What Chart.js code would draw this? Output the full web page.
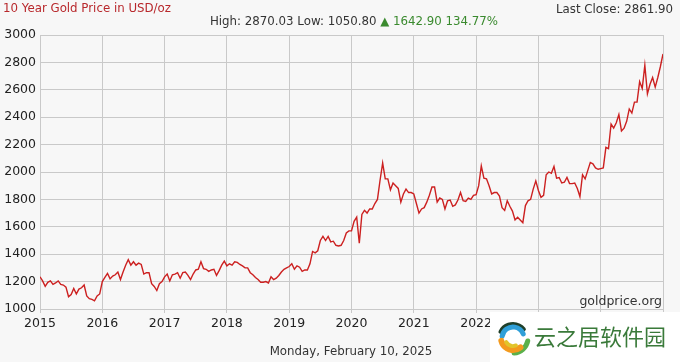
<!DOCTYPE html>
<html>
<head>
<meta charset="utf-8">
<script src="https://cdn.jsdelivr.net/npm/chart.js@4/dist/chart.umd.min.js"></script>
<style>
html,body{margin:0;padding:0;background:#f7f7f7;}
#wrap{width:680px;height:362px;position:relative;}
</style>
</head>
<body>
<div id="wrap"><canvas id="c" width="680" height="362"></canvas></div>
<script>
// Semi-monthly gold price readings (USD/oz), starting Feb 10 2015
const y2015 = [1235,1205,1165,1195,1205,1180,1190,1205,1180,1175,1160,1090,1105,1150,1110,1145,1155,1175,1095,1075,1070,1060,1095,1110];
const y2016 = [1200,1230,1260,1220,1240,1250,1270,1215,1270,1320,1360,1320,1345,1320,1335,1325,1255,1265,1265,1185,1165,1135,1185,1200];
const y2017 = [1235,1255,1205,1250,1255,1265,1225,1265,1270,1245,1215,1255,1285,1290,1345,1295,1290,1275,1285,1290,1245,1280,1320,1350];
const y2018 = [1315,1330,1320,1345,1340,1325,1315,1300,1300,1265,1250,1230,1215,1195,1195,1200,1190,1235,1215,1225,1245,1270,1290,1300];
const y2019 = [1310,1330,1290,1315,1305,1275,1285,1285,1330,1420,1410,1425,1500,1530,1500,1530,1490,1495,1465,1460,1465,1500,1555,1570];
const y2020 = [1570,1640,1670,1480,1690,1720,1700,1730,1730,1770,1800,1940,2065,1950,1950,1870,1920,1900,1880,1780,1840,1875,1850,1850];
const y2021 = [1840,1770,1700,1730,1740,1780,1830,1890,1890,1780,1810,1800,1730,1790,1795,1750,1760,1795,1850,1790,1785,1810,1800,1830];
const y2022 = [1835,1900,2045,1955,1950,1900,1840,1850,1850,1825,1740,1720,1790,1750,1715,1650,1670,1650,1630,1755,1790,1800,1875,1935];
const y2023 = [1865,1815,1830,1980,2000,1990,2040,1955,1960,1920,1925,1960,1915,1915,1920,1880,1820,1980,1950,2010,2070,2060,2030,2020];
const y2024 = [2025,2030,2180,2170,2350,2320,2360,2420,2300,2320,2370,2460,2430,2510,2510,2660,2610,2780,2570,2640,2690,2620,2690,2770,2862];

const yearLabels = ['2015','2016','2017','2018','2019','2020','2021','2022','2023','2024'];
const yTicks = [1000,1200,1400,1600,1800,2000,2200,2400,2600,2800,3000];

const prices = [].concat(y2015,y2016,y2017,y2018,y2019,y2020,y2021,y2022,y2023,y2024);
const points = prices.map((v,i)=>({x: 2015 + i/24, y: v}));

const FONT = '"DejaVu Sans", Verdana, sans-serif';

const decor = {
  id:'decor',
  beforeDraw(chart){
    const ctx = chart.ctx;
    ctx.save();
    ctx.fillStyle = '#f7f7f7';
    ctx.fillRect(0,0,chart.width,chart.height);
    ctx.restore();
  },
  afterDraw(chart){
    const ctx = chart.ctx;
    ctx.save();
    ctx.textBaseline = 'middle';
    ctx.font = '11.8px ' + FONT;
    // title
    ctx.fillStyle = '#b8282c';
    ctx.textAlign = 'left';
    ctx.fillText('10 Year Gold Price in USD/oz', 3, 9);
    // last close
    ctx.fillStyle = '#333';
    ctx.textAlign = 'right';
    ctx.fillText('Last Close: 2861.90', 673, 10);
    // high / low line
    const p1 = 'High: 2870.03 Low: 1050.80 ';
    const p2 = '\u25B2 1642.90 134.77%';
    const w1 = ctx.measureText(p1).width, w2 = ctx.measureText(p2).width;
    let sx = 354 - (w1+w2)/2;
    ctx.textAlign = 'left';
    ctx.fillStyle = '#333';
    ctx.fillText(p1, sx, 22);
    ctx.fillStyle = '#3a8a2e';
    ctx.fillText(p2, sx + w1, 22);
    // date
    ctx.fillStyle = '#333';
    ctx.textAlign = 'center';
    ctx.fillText('Monday, February 10, 2025', 351, 352);
    // goldprice.org
    ctx.font = '12.5px ' + FONT;
    ctx.textAlign = 'right';
    ctx.fillText('goldprice.org', 662, 302);

    // watermark overlay
    ctx.fillStyle = '#ffffff';
    ctx.fillRect(490, 312, 190, 50);
    const cx = 513, cy = 338;
    ctx.lineCap = 'round';
    const arcs = [
      ['#1f3f2a', 14, 3.6, 5.6, 4],
      ['#2f9fd8', 11, 3.3, 5.9, 5],
      ['#5bb04a', 15, 0.2, 1.5, 5],
      ['#f39a1e', 12, 0.9, 2.9, 6],
      ['#e2c42a', 8, 1.2, 2.6, 4]
    ];
    arcs.forEach(a=>{
      ctx.strokeStyle = a[0]; ctx.lineWidth = a[4];
      ctx.beginPath(); ctx.arc(cx, cy, a[1], a[2], a[3]); ctx.stroke();
    });
    ctx.fillStyle = '#3a7a3a';
    ctx.textAlign = 'left';
    ctx.font = '22px "Noto Sans CJK SC", sans-serif';
    ctx.fillText('云之居软件园', 534, 337);
    ctx.restore();
  }
};

new Chart(document.getElementById('c'), {
  type:'line',
  data:{ datasets:[{
    data: points,
    borderColor:'#cc2020',
    borderWidth:1.4,
    pointRadius:0,
    tension:0,
    fill:false
  }]},
  options:{
    responsive:false,
    animation:false,
    events:[],
    layout:{ padding:{ top:35, right:17, bottom:31, left:0 } },
    plugins:{ legend:{display:false}, tooltip:{enabled:false}, title:{display:false} },
    scales:{
      x:{
        type:'linear', min:2015, max:2025,
        afterFit(s){ s.height = 22; },
        afterBuildTicks(s){ s.ticks = yearLabels.map(l=>({value:+l})).concat([{value:2025}]); },
        grid:{ color:'#c9c9c9', lineWidth:1, tickLength:4, drawTicks:true },
        border:{ color:'#c9c9c9' },
        ticks:{
          autoSkip:false, maxRotation:0, padding:3,
          color:'#222', font:{ family:FONT, size:12.5 },
          callback(v){ const i = yearLabels.indexOf(String(v)); return i>=0 ? yearLabels[i] : ''; }
        }
      },
      y:{
        min:1000, max:3000,
        afterFit(s){ s.width = 40; },
        afterBuildTicks(s){ s.ticks = yTicks.map(v=>({value:v})); },
        grid:{ color:'#c9c9c9', lineWidth:1, drawTicks:false },
        border:{ color:'#c9c9c9' },
        ticks:{ padding:4, color:'#222', font:{ family:FONT, size:12.5 },
          callback(v){ return String(v); } }
      }
    }
  },
  plugins:[decor]
});
</script>
</body>
</html>
